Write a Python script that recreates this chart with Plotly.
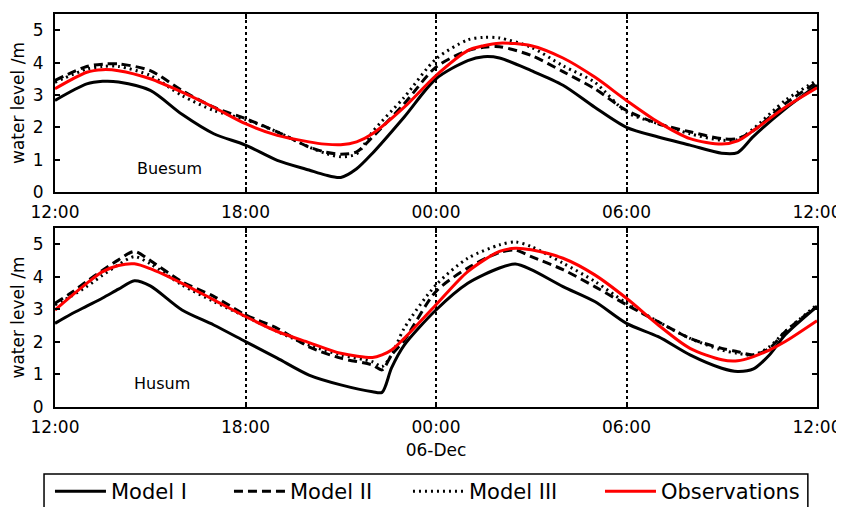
import pandas as pd
import plotly.graph_objects as go
from plotly.subplots import make_subplots

# ---------------- data (hours after 2013-12-05 12:00) ----------------
start = pd.Timestamp("2013-12-05 12:00")

buesum_hours = [0, 1, 1.5, 2, 3, 4, 5, 6, 7, 8, 8.5, 9, 9.5, 10, 11, 12, 13, 13.5, 14, 15,
                16, 17, 18, 19, 20, 21, 21.5, 22, 23, 24]
buesum_model1 = [2.83, 3.34, 3.42, 3.40, 3.14, 2.40, 1.80, 1.45, 0.98, 0.68, 0.53, 0.45, 0.72, 1.20,
                 2.32, 3.50, 4.06, 4.18, 4.14, 3.75, 3.30, 2.62, 2.00, 1.70, 1.45, 1.20, 1.22, 1.72,
                 2.57, 3.30]
buesum_model2 = [3.45, 3.88, 3.95, 3.96, 3.75, 3.14, 2.62, 2.27, 1.86, 1.39, 1.24, 1.17, 1.24, 1.70,
                 2.73, 3.86, 4.37, 4.47, 4.49, 4.22, 3.72, 3.19, 2.52, 2.11, 1.86, 1.65, 1.65, 1.90,
                 2.73, 3.39]
buesum_model3 = [3.39, 3.80, 3.88, 3.88, 3.60, 2.98, 2.52, 2.24, 1.86, 1.39, 1.20, 1.09, 1.18, 1.86,
                 2.93, 4.11, 4.70, 4.78, 4.76, 4.47, 3.90, 3.39, 2.47, 2.11, 1.80, 1.60, 1.62, 1.96,
                 2.83, 3.45]
buesum_obs = [3.19, 3.70, 3.78, 3.75, 3.50, 3.09, 2.62, 2.11, 1.75, 1.55, 1.48, 1.46, 1.55, 1.80,
              2.62, 3.60, 4.37, 4.52, 4.60, 4.52, 4.14, 3.55, 2.83, 2.16, 1.65, 1.48, 1.58, 1.90,
              2.62, 3.22]

husum_hours = [0, 0.5, 1, 1.5, 2, 2.5, 3, 4, 5, 6, 7, 8, 9, 10, 10.3, 10.6, 11, 12, 13, 14, 14.5,
               15, 16, 17, 18, 19, 20, 21, 21.5, 22, 22.5, 23, 24]
husum_model1 = [2.57, 2.85, 3.10, 3.35, 3.62, 3.88, 3.72, 2.98, 2.52, 2.01, 1.50, 0.98, 0.68, 0.47,
                0.45, 1.20, 1.90, 2.98, 3.80, 4.27, 4.39, 4.22, 3.70, 3.24, 2.57, 2.16, 1.60, 1.19,
                1.09, 1.17, 1.60, 2.22, 3.09]
husum_model2 = [3.19, 3.50, 3.86, 4.20, 4.52, 4.78, 4.50, 3.85, 3.40, 2.83, 2.42, 1.85, 1.50, 1.29,
                1.14, 1.60, 2.05, 3.55, 4.27, 4.75, 4.82, 4.62, 4.22, 3.70, 3.14, 2.62, 2.11, 1.80,
                1.70, 1.60, 1.80, 2.32, 3.09]
husum_model3 = [3.14, 3.40, 3.70, 4.05, 4.37, 4.62, 4.40, 3.75, 3.24, 2.78, 2.32, 1.90, 1.60, 1.39,
                1.24, 1.60, 2.42, 3.75, 4.57, 4.98, 5.07, 4.93, 4.42, 3.86, 3.19, 2.62, 2.11, 1.75,
                1.65, 1.60, 1.85, 2.32, 3.14]
husum_obs = [2.98, 3.40, 3.80, 4.16, 4.35, 4.40, 4.25, 3.80, 3.29, 2.78, 2.32, 1.98, 1.65, 1.52,
             1.60, 1.75, 2.11, 3.14, 4.16, 4.78, 4.88, 4.83, 4.57, 4.06, 3.34, 2.52, 1.80, 1.45,
             1.42, 1.55, 1.75, 2.01, 2.65]

series_names = ["Model I", "Model II", "Model III", "Observations"]
stations = ["Buesum", "Husum"]

tick_hours = [0, 6, 12, 18, 24]
tick_labels_top = ["12:00", "18:00", "00:00", "06:00", "12:00"]
tick_labels_bottom = ["12:00", "18:00", "00:00<br>06-Dec", "06:00", "12:00"]
y_ticks = [0, 1, 2, 3, 4, 5]

# ---------------- styling ----------------
styles = {
    "Model I": dict(color="black", width=3, dash="solid"),
    "Model II": dict(color="black", width=3, dash="9px,5px"),
    "Model III": dict(color="black", width=3, dash="2px,4px"),
    "Observations": dict(color="#ff0000", width=3, dash="solid"),
}
legend_of = {"Model I": "legend", "Model II": "legend", "Model III": "legend",
             "Observations": "legend2"}
FONT = "DejaVu Sans"


def to_time(hours):
    return [start + pd.Timedelta(hours=h) for h in hours]


fig = make_subplots(rows=2, cols=1, vertical_spacing=0.0)

data = [
    (buesum_hours, [buesum_model1, buesum_model2, buesum_model3, buesum_obs]),
    (husum_hours, [husum_model1, husum_model2, husum_model3, husum_obs]),
]

for row, (hours, vals) in enumerate(data, start=1):
    t = to_time(hours)
    for name, v in zip(series_names, vals):
        fig.add_trace(
            go.Scatter(
                x=t, y=v, mode="lines", name=name,
                line=dict(shape="spline", smoothing=0.8, **styles[name]),
                showlegend=(row == 1), legendgroup=name, legend=legend_of[name],
            ),
            row=row, col=1,
        )

tick_times = to_time(tick_hours)
x_range = [tick_times[0], tick_times[-1]]

axis_common = dict(
    showline=True, linecolor="black", linewidth=2, mirror="ticks",
    ticks="inside", ticklen=5, tickwidth=1.5, tickcolor="black",
    tickfont=dict(family=FONT, size=17, color="black"), zeroline=False,
    automargin=False,
)

fig.update_xaxes(
    range=x_range, tickvals=tick_times, showgrid=True, gridcolor="black",
    gridwidth=1.5, griddash="dot", ticklabelstandoff=4, **axis_common
)
fig.update_xaxes(ticktext=tick_labels_top, row=1, col=1)
fig.update_xaxes(ticktext=tick_labels_bottom, row=2, col=1)
fig.update_yaxes(
    range=[0, 5.5], tickvals=y_ticks, showgrid=False, ticklabelstandoff=6,
    title=dict(text="water level /m", font=dict(family=FONT, size=17, color="black"), standoff=8),
    **axis_common
)

fig.update_layout(
    xaxis=dict(domain=[0, 1]),
    yaxis=dict(domain=[0.547, 1.0]),
    yaxis2=dict(domain=[0.0, 0.4555]),
)

for i, st in enumerate(stations):
    fig.add_annotation(
        text=st, xref=("x domain" if i == 0 else "x2 domain"),
        yref=("y domain" if i == 0 else "y2 domain"),
        x=0.15 if i == 0 else 0.14, y=0.13, xanchor="center", yanchor="middle",
        showarrow=False,
        font=dict(family=FONT, size=16, color="black"),
    )

# legend frame (extends past the bottom edge, as in the reference)
fig.add_shape(type="rect", xref="paper", yref="paper",
              x0=-0.0144, x1=0.988, y0=-0.35, y1=-0.1705,
              line=dict(color="black", width=1.5), fillcolor="rgba(0,0,0,0)", layer="above")

legend_common = dict(
    orientation="h", yanchor="top", xanchor="left", y=-0.163,
    borderwidth=0, bgcolor="rgba(0,0,0,0)",
    font=dict(family=FONT, size=21, color="black"),
    itemwidth=51, tracegroupgap=0,
)

# margins compensate for the 8px default page-body margin
fig.update_layout(
    width=844, height=507,
    margin=dict(l=47, r=35, t=6, b=108, autoexpand=False),
    paper_bgcolor="white", plot_bgcolor="white",
    font=dict(family=FONT, color="black"),
    showlegend=True,
    legend=dict(x=-0.0066, entrywidth=113, entrywidthmode="pixels", **legend_common),
    legend2=dict(x=0.7152, **legend_common),
)

fig.write_html("out.html")
